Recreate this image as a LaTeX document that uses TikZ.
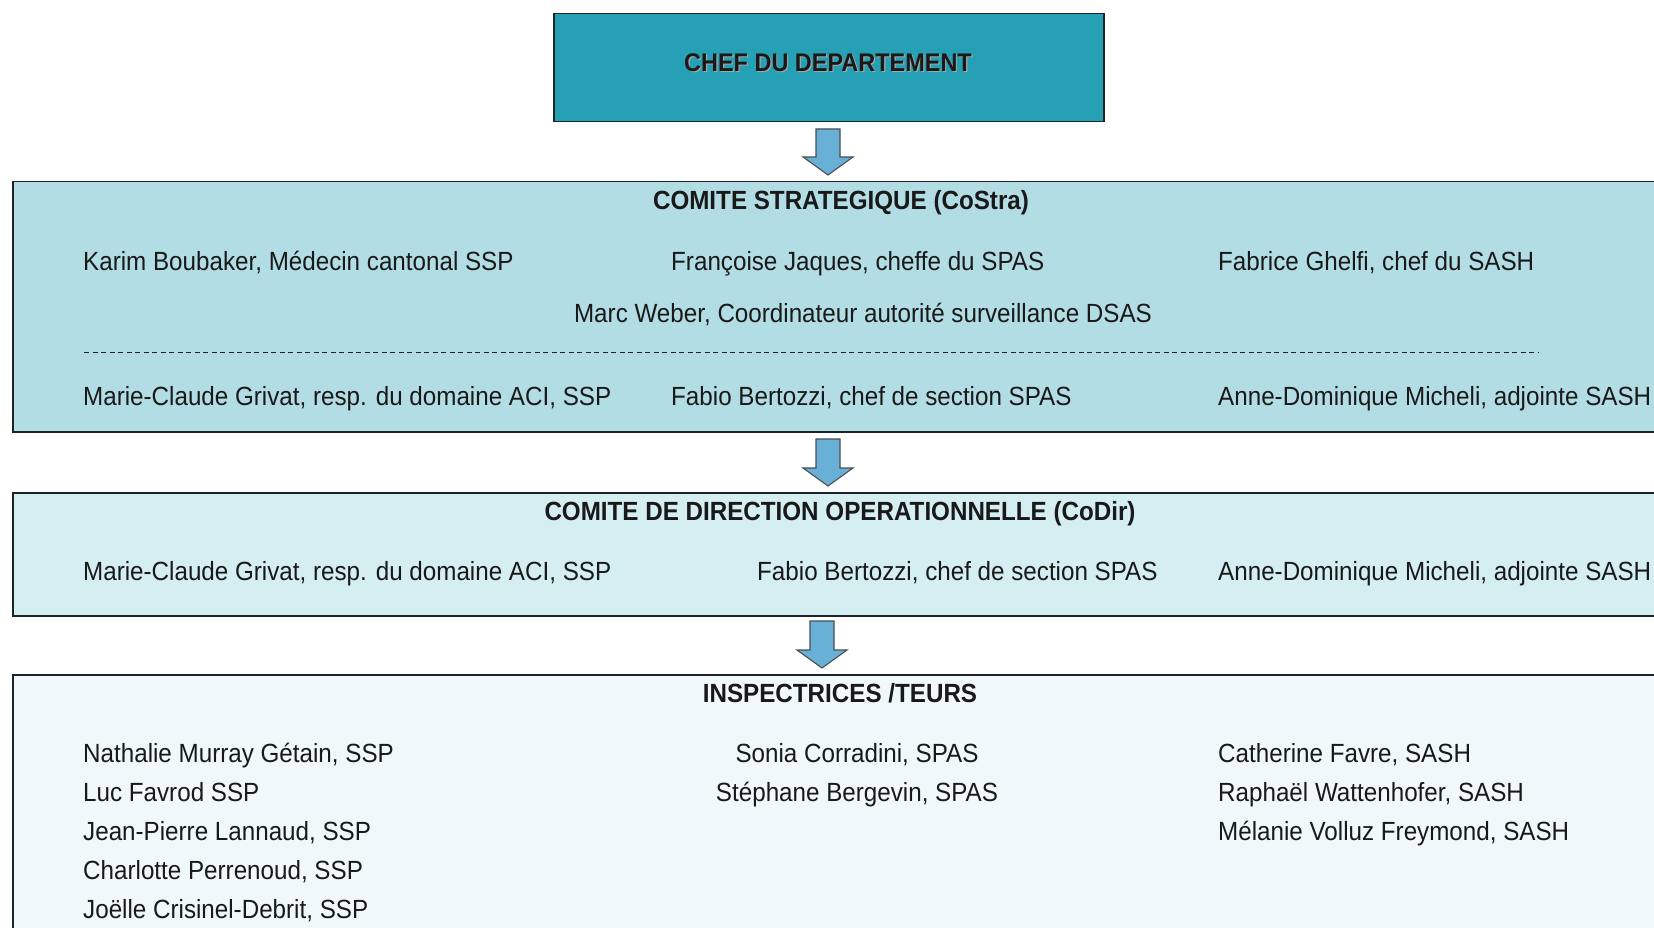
\documentclass[tikz,border=0pt]{standalone}
\usepackage{fontspec}
\setmainfont{Liberation Sans}[FakeStretch=0.92]
\usetikzlibrary{calc}
\definecolor{chefcol}{RGB}{38,160,180}
\definecolor{costracol}{RGB}{178,221,228}
\definecolor{codircol}{RGB}{212,238,242}
\definecolor{inspcol}{RGB}{240,248,249}
\definecolor{arrcol}{RGB}{104,176,214}
\definecolor{linecol}{RGB}{30,35,40}
\tikzset{
  x=1pt, y=-1pt,
  panel/.style={draw=linecol, line width=1.5pt, rectangle, inner sep=0pt, anchor=north west},
  txt/.style={inner sep=0pt, anchor=mid west, font=\fontsize{26.3}{30}\selectfont, text=black!90},
  ctxt/.style={inner sep=0pt, anchor=mid, font=\fontsize{26.3}{30}\selectfont, text=black!90},
  ttl/.style={inner sep=0pt, anchor=mid, font=\fontsize{26.3}{30}\selectfont\bfseries, text=black!90},
  blockarrow/.style={draw=linecol!80, line width=1.1pt, fill=arrcol, line join=miter}
}
\newcommand{\downarrowblock}[2]{%
  \draw[blockarrow] ($(#1)+(-12,0)$) -- ($(#1)+(12,0)$) -- ($(#1)+(12,#2-18)$) -- ($(#1)+(25,#2-18)$)
    -- ($(#1)+(0,#2)$) -- ($(#1)+(-25,#2-18)$) -- ($(#1)+(-12,#2-18)$) -- cycle;}
\begin{document}
\begin{tikzpicture}
\useasboundingbox (0,0) rectangle (1654,928);
\clip (0,0) rectangle (1654,928);
\fill[white] (0,0) rectangle (1654,928);

% boxes
\node[panel, fill=chefcol, minimum width=550pt, minimum height=108pt] (chef) at (553,13) {};
\node[ttl, text=black!35, font=\fontsize{25.5}{29}\selectfont\bfseries] (chefs) at (829.2,70.2) {CHEF DU DEPARTEMENT};
\node[ttl, font=\fontsize{25.5}{29}\selectfont\bfseries] (cheft) at (828,69) {CHEF DU DEPARTEMENT};

\node[panel, fill=costracol, minimum width=1660pt, minimum height=250pt] (costra) at (12,181) {};
\node[panel, fill=codircol, minimum width=1660pt, minimum height=123pt] (codir) at (12,492) {};
\node[panel, fill=inspcol, minimum width=1660pt, minimum height=270pt] (insp) at (12,674) {};

% arrows
\coordinate (a1) at (828,129);
\coordinate (a2) at (828,439);
\coordinate (a3) at (822,621);
\downarrowblock{a1}{46}
\downarrowblock{a2}{47}
\downarrowblock{a3}{47}

% CoStra
\node[ttl] (costrat) at (841,207) {COMITE STRATEGIQUE (CoStra)};
\node[txt] (k1) at (83,268) {Karim Boubaker, Médecin cantonal SSP};
\node[txt] (k2) at (671,268) {Françoise Jaques, cheffe du SPAS};
\node[txt] (k3) at (1218,268) {Fabrice Ghelfi, chef du SASH};
\node[ctxt] (k4) at (863,320) {Marc Weber, Coordinateur autorité surveillance DSAS};
\draw[linecol, line width=0.8pt, dash pattern=on 5pt off 3.5pt] (84,352) -- (1538,352);
\node[txt] (k5) at (83,403) {Marie-Claude Grivat, resp. du domaine ACI, SSP};
\node[txt] (k6) at (671,403) {Fabio Bertozzi, chef de section SPAS};
\node[txt] (k7) at (1218,403) {Anne-Dominique Micheli, adjointe SASH};

% CoDir
\node[ttl] (codirt) at (840,518) {COMITE DE DIRECTION OPERATIONNELLE (CoDir)};
\node[txt] (d1) at (83,578) {Marie-Claude Grivat, resp. du domaine ACI, SSP};
\node[txt] (d2) at (757,578) {Fabio Bertozzi, chef de section SPAS};
\node[txt] (d3) at (1218,578) {Anne-Dominique Micheli, adjointe SASH};

% Inspecteurs
\node[ttl] (inspt) at (840,700) {INSPECTRICES /TEURS};
\node[txt] (i1) at (83,760) {Nathalie Murray Gétain, SSP};
\node[txt] (i2) at (83,799) {Luc Favrod SSP};
\node[txt] (i3) at (83,838) {Jean-Pierre Lannaud, SSP};
\node[txt] (i4) at (83,877) {Charlotte Perrenoud, SSP};
\node[txt] (i5) at (83,916) {Joëlle Crisinel-Debrit, SSP};
\node[ctxt] (i6) at (857,760) {Sonia Corradini, SPAS};
\node[ctxt] (i7) at (857,799) {Stéphane Bergevin, SPAS};
\node[txt] (i8) at (1218,760) {Catherine Favre, SASH};
\node[txt] (i9) at (1218,799) {Raphaël Wattenhofer, SASH};
\node[txt] (i10) at (1218,838) {Mélanie Volluz Freymond, SASH};
\end{tikzpicture}
\end{document}
